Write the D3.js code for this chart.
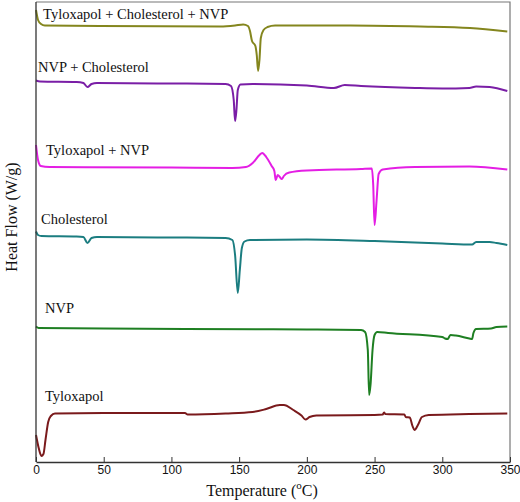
<!DOCTYPE html>
<html><head><meta charset="utf-8">
<script src="https://cdn.jsdelivr.net/npm/d3@7"></script>
<style>body{margin:0;background:#fff}</style>
</head><body><svg id="c" width="520" height="502"></svg>
<script>
// Temperature (°C) and heat-flow values (arbitrary stacked units, W/g)
const seriesNames = ["Tyloxapol + Cholesterol + NVP","NVP + Cholesterol","Tyloxapol + NVP","Cholesterol","NVP","Tyloxapol"];
const seriesColors = ["#84861e","#7a1ea6","#e41ee4","#1b7d80","#1e7f22","#7a1a1c"];
const xTicks = [0,50,100,150,200,250,300,350];

const tylChoNvp = [[0,45.2],[1.5,44.2],[3.7,43.8],[6.6,43.65],[47,43.6],[136,43.55],[147,43.65],[153,43.75],[156.5,43.6],[158,43.1],[159.5,42.1],[162,41.6],[163,40.7],[164,39.1],[165,40.2],[166,42.4],[168,43.2],[171,43.5],[176.5,43.65],[232,43.65],[283.5,43.55],[320.5,43.4],[348,43.05]];
const nvpCho = [[0,38.15],[3,38.05],[30,38.0],[35,37.9],[38,37.5],[41,37.8],[45,37.9],[100,37.85],[140,37.8],[144,37.6],[146,36.2],[147,34.1],[148,35.2],[149,37.2],[151,37.75],[160,37.8],[200,37.65],[220,37.4],[228,37.7],[240,37.6],[280,37.4],[300,37.35],[320,37.4],[325,37.55],[335,37.5],[348,37.1]];
const tylNvp = [[0,31.7],[1.5,30.2],[3.5,29.6],[10,29.5],[100,29.45],[145,29.4],[155,29.5],[160,29.9],[165,30.7],[167,30.9],[170,30.5],[174,29.6],[176,29.1],[177,28.2],[178.5,28.7],[180,28.5],[181.5,28.3],[183,28.6],[187,28.95],[200,29.15],[240,29.3],[248,29.35],[249,27.7],[250,23.7],[251.5,26.2],[253,28.8],[256,29.25],[280,29.5],[320,29.55],[348,29.25]];
const cho = [[0,23.05],[1.5,22.7],[4,22.6],[30,22.55],[35,22.5],[38,21.9],[41,22.4],[45,22.5],[100,22.45],[140,22.4],[145,22.2],[147,20.7],[149,16.9],[150.5,19.2],[152,21.4],[154,22.05],[158,22.2],[200,22.25],[250,22.1],[300,21.85],[322,21.75],[325,22.0],[335,22.0],[340,21.9],[348,21.7]];
const nvp = [[0,13.55],[2,13.4],[50,13.35],[110,13.3],[200,13.25],[240,13.2],[243,13.0],[245,11.2],[246,6.7],[247,7.7],[248.5,11.2],[250,12.7],[252,13.0],[260,12.9],[300,12.5],[302,12.35],[304,12.3],[306,12.7],[310,12.65],[320,12.35],[322,12.3],[323,12.9],[325,13.3],[336,13.35],[340,13.5],[348,13.55]];
const tyl = [[0,2.7],[2,1.4],[4,0.6],[5.5,0.8],[7,2.2],[9,4.0],[11,4.6],[14,4.85],[50,4.9],[110,4.9],[112,4.75],[140,4.85],[160,5.0],[170,5.3],[180,5.7],[183,5.7],[190,5.2],[196,4.65],[199,4.25],[202,4.5],[207,4.65],[250,4.7],[256,4.75],[257,4.95],[258,4.8],[272,4.75],[273,4.5],[276,4.45],[278,3.6],[279.5,3.2],[282,3.7],[285,4.5],[290,4.7],[320,4.8],[348,4.85]];
const allSeries = [tylChoNvp, nvpCho, tylNvp, cho, nvp, tyl];
// label anchor (°C, value)
const labelPos = [[5.2,44.35],[1.5,39.0],[7.4,30.7],[3.7,23.8],[6.6,14.9],[6.6,6.1]];

const svg = d3.select("#c");
const m = {l:36, t:2, r:10, b:40};
const W = 520, H = 502;
const x = d3.scaleLinear().domain([0,350]).range([m.l, W-m.r]);
const y = d3.scaleLinear().domain([0,46]).range([H-m.b, m.t]);

// frame top/right
svg.append("path").attr("d",`M${x(0)},${y(46)}H${x(350)}V${y(0)}`).attr("fill","none").attr("stroke","#777").attr("stroke-width",1.2);

const line = d3.line().x(d=>x(d[0])).y(d=>y(d[1])).curve(d3.curveMonotoneX);
allSeries.forEach((s,i)=>{
  svg.append("path").datum(s).attr("d",line).attr("fill","none")
    .attr("stroke",seriesColors[i]).attr("stroke-width",2).attr("stroke-linejoin","round");
});

const xa = svg.append("g").attr("transform",`translate(0,${y(0)})`)
  .call(d3.axisBottom(x).tickValues(xTicks).tickSizeInner(-5).tickSizeOuter(0).tickPadding(3));
xa.select(".domain").attr("stroke","#333").attr("stroke-width",1.3);
xa.selectAll(".tick line").attr("stroke","#333");
xa.selectAll(".tick text").attr("font-family","'Liberation Sans', Arial, sans-serif").attr("font-size",12).attr("fill","#111");

svg.append("line").attr("x1",x(0)).attr("x2",x(0)).attr("y1",y(46)).attr("y2",y(0)).attr("stroke","#333").attr("stroke-width",1.3);

seriesNames.forEach((n,i)=>{
  svg.append("text").attr("x",x(labelPos[i][0])).attr("y",y(labelPos[i][1]))
    .attr("font-family","'Liberation Serif','Times New Roman',serif").attr("font-size",14.5).attr("fill","#111").text(n);
});

const xl = svg.append("text").attr("x",262).attr("y",496).attr("text-anchor","middle")
  .attr("font-family","'Liberation Serif','Times New Roman',serif").attr("font-size",16).attr("fill","#111");
xl.append("tspan").text("Temperature (");
xl.append("tspan").attr("font-size",11).attr("dy",-7).text("o");
xl.append("tspan").attr("dy",7).text("C)");

svg.append("text").attr("transform","translate(17,217) rotate(-90)").attr("text-anchor","middle")
  .attr("font-family","'Liberation Serif','Times New Roman',serif").attr("font-size",16).attr("fill","#111")
  .text("Heat Flow (W/g)");
</script></body></html>
